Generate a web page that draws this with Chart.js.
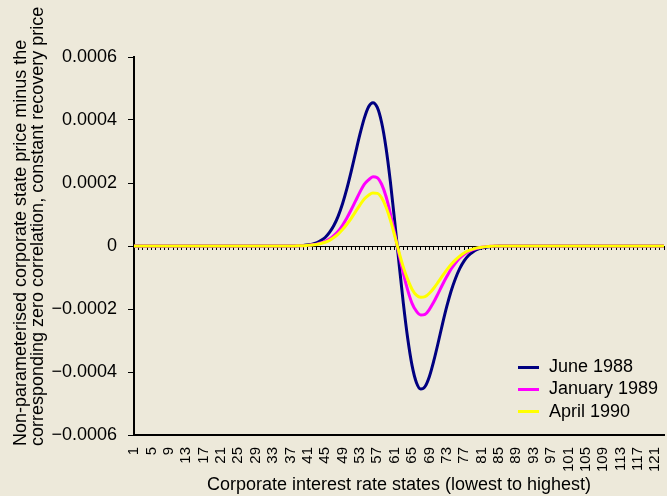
<!DOCTYPE html>
<html>
<head>
<meta charset="utf-8">
<script src="https://cdn.jsdelivr.net/npm/chart.js@4.4.1/dist/chart.umd.min.js"></script>
<style>
  body { margin: 0; background: #ede9da; }
  #wrap { position: relative; width: 667px; height: 496px; }
  #legend { position: absolute; left: 518px; top: 355px; font: 18px 'Liberation Sans', Arial, sans-serif; color: #000; }
  #legend div { height: 22.3px; line-height: 22.3px; white-space: nowrap; }
  #legend span.swatch { display: inline-block; width: 21px; height: 3px; vertical-align: middle; margin-right: 10px; }
</style>
</head>
<body>
<div id="wrap">
  <canvas id="chart" width="667" height="496"></canvas>
  <div id="legend"></div>
</div>
<script>
const categories = [
  1, 2, 3, 4, 5, 6, 7, 8, 9, 10,
  11, 12, 13, 14, 15, 16, 17, 18, 19, 20,
  21, 22, 23, 24, 25, 26, 27, 28, 29, 30,
  31, 32, 33, 34, 35, 36, 37, 38, 39, 40,
  41, 42, 43, 44, 45, 46, 47, 48, 49, 50,
  51, 52, 53, 54, 55, 56, 57, 58, 59, 60,
  61, 62, 63, 64, 65, 66, 67, 68, 69, 70,
  71, 72, 73, 74, 75, 76, 77, 78, 79, 80,
  81, 82, 83, 84, 85, 86, 87, 88, 89, 90,
  91, 92, 93, 94, 95, 96, 97, 98, 99, 100,
  101, 102, 103, 104, 105, 106, 107, 108, 109, 110,
  111, 112, 113, 114, 115, 116, 117, 118, 119, 120,
  121, 122, 123
]

const xTickLabels = ['1', '5', '9', '13', '17', '21', '25', '29', '33', '37', '41', '45', '49', '53', '57', '61',
  '65', '69', '73', '77', '81', '85', '89', '93', '97', '101', '105', '109', '113', '117', '121']

const yTicks = [-0.0006, -0.0004, -0.0002, 0, 0.0002, 0.0004, 0.0006]

const june1988 = [
  0, 0, 0, 0, 0, 0, 0, 0, 0, 0,
  0, 0, 0, 0, 0, 0, 0, 0, 0, 0,
  0, 0, 0, 0, 0, 0, 0, 0, 0, 0,
  0, 0, 0, 0, 0, 0, 0, 0, 0.000001, 0.000002,
  0.000004, 0.000006, 0.00001, 0.000017, 0.000027, 0.000043, 0.000065, 0.000095, 0.000134, 0.000182,
  0.000237, 0.000296, 0.000354, 0.000405, 0.000442, 0.000455, 0.00044, 0.000392, 0.000313, 0.000206,
  0.00008, -0.000054, -0.000182, -0.000293, -0.000379, -0.000433, -0.000454, -0.000446, -0.000414, -0.000365,
  -0.000308, -0.000248, -0.000192, -0.000143, -0.000103, -0.000071, -0.000047, -0.00003, -0.000019, -0.000011,
  -0.000006, -0.000004, -0.000002, -0.000001, 0, 0, 0, 0, 0, 0,
  0, 0, 0, 0, 0, 0, 0, 0, 0, 0,
  0, 0, 0, 0, 0, 0, 0, 0, 0, 0,
  0, 0, 0, 0, 0, 0, 0, 0, 0, 0,
  0, 0, 0
]

const january1989 = [
  0, 0, 0, 0, 0, 0, 0, 0, 0, 0,
  0, 0, 0, 0, 0, 0, 0, 0, 0, 0,
  0, 0, 0, 0, 0, 0, 0, 0, 0, 0,
  0, 0, 0, 0, 0, 0, 0, 0, 0.000001, 0.000001,
  0.000002, 0.000004, 0.000006, 0.00001, 0.000015, 0.000022, 0.000033, 0.000047, 0.000066, 0.000089,
  0.000115, 0.000143, 0.000171, 0.000196, 0.00021, 0.00022, 0.000217, 0.000196, 0.000158, 0.000104,
  0.00004, -0.000025, -0.000087, -0.00014, -0.000182, -0.000207, -0.000219, -0.000217, -0.000201, -0.000178,
  -0.000151, -0.000123, -0.000097, -0.000073, -0.000054, -0.000038, -0.000026, -0.000017, -0.000011, -0.000007,
  -0.000004, -0.000002, -0.000001, 0, 0, 0, 0, 0, 0, 0,
  0, 0, 0, 0, 0, 0, 0, 0, 0, 0,
  0, 0, 0, 0, 0, 0, 0, 0, 0, 0,
  0, 0, 0, 0, 0, 0, 0, 0, 0, 0,
  0, 0, 0
]

const april1990 = [
  0, 0, 0, 0, 0, 0, 0, 0, 0, 0,
  0, 0, 0, 0, 0, 0, 0, 0, 0, 0,
  0, 0, 0, 0, 0, 0, 0, 0, 0, 0,
  0, 0, 0, 0, 0, 0, 0, 0, 0.000001, 0.000001,
  0.000002, 0.000003, 0.000005, 0.000008, 0.000012, 0.000018, 0.000027, 0.000038, 0.000052, 0.000069,
  0.000088, 0.000109, 0.00013, 0.000149, 0.000161, 0.000168, 0.000167, 0.000153, 0.000124, 0.000083,
  0.000033, -0.000019, -0.000067, -0.000106, -0.000137, -0.000156, -0.000163, -0.000161, -0.00015, -0.000134,
  -0.000115, -0.000095, -0.000076, -0.000059, -0.000044, -0.000032, -0.000022, -0.000015, -0.00001, -0.000006,
  -0.000004, -0.000002, -0.000001, 0, 0, 0, 0, 0, 0, 0,
  0, 0, 0, 0, 0, 0, 0, 0, 0, 0,
  0, 0, 0, 0, 0, 0, 0, 0, 0, 0,
  0, 0, 0, 0, 0, 0, 0, 0, 0, 0,
  0, 0, 0
]

const seriesNames = ['June 1988', 'January 1989', 'April 1990']
const seriesColors = ['#000080', '#ff00ff', '#ffff00']

const FONT = "'Liberation Sans', Arial, sans-serif"
const yTitleLines = ['Non-parameterised corporate state price minus the',
  'corresponding zero correlation, constant recovery price']

// y title drawn by hand, the scale title would squeeze it to the axis height
const yTitlePlugin = {
  id: 'yTitle',
  afterDraw(chart) {
    const ctx = chart.ctx
    ctx.save()
    ctx.translate(26, 446)
    ctx.rotate(-Math.PI / 2)
    ctx.font = '18px ' + FONT
    ctx.fillStyle = '#000'
    ctx.textAlign = 'left'
    ctx.textBaseline = 'alphabetic'
    yTitleLines.forEach((line, i) => ctx.fillText(line, 0, i * 17))
    ctx.restore()
  }
}

const fmtY = v => {
  if (Math.abs(v) < 1e-12) return '0'
  return (v < 0 ? '\u2212' : '') + Math.abs(v).toFixed(4)
}

const seriesData = [june1988, january1989, april1990]

new Chart(document.getElementById('chart'), {
  type: 'line',
  data: {
    labels: categories,
    datasets: seriesData.map((d, i) => ({
      label: seriesNames[i],
      data: d,
      borderColor: seriesColors[i],
      backgroundColor: seriesColors[i],
      borderWidth: 3,
      pointRadius: 0,
      cubicInterpolationMode: 'monotone',
      fill: false,
      order: 3 - i,
      xAxisID: 'x',
      yAxisID: 'y'
    }))
  },
  options: {
    responsive: false,
    animation: false,
    devicePixelRatio: 1,
    layout: { padding: { top: 57, right: 3, bottom: 0, left: 0 } },
    plugins: {
      legend: { display: false },
      tooltip: { enabled: false }
    },
    scales: {
      x: {
        type: 'category',
        position: 'bottom',
        offset: false,
        grid: { display: false, drawTicks: false },
        border: { display: true, color: '#000', width: 2 },
        ticks: {
          autoSkip: false,
          minRotation: 90,
          maxRotation: 90,
          padding: 12,
          color: '#000',
          font: { family: FONT, size: 15 },
          callback: function (value, index) {
            const lab = String(categories[index])
            return xTickLabels.includes(lab) ? lab : null
          }
        },
        title: {
          display: true,
          text: 'Corporate interest rate states (lowest to highest)',
          color: '#000',
          font: { family: FONT, size: 18, lineHeight: 1.2 },
          padding: { top: 0, bottom: 0 }
        },
        afterFit: s => {
          s.height = 61
          s.paddingLeft = 0
          s.paddingRight = 0
        }
      },
      x2: {
        type: 'category',
        axis: 'x',
        position: { y: 0 },
        offset: false,
        grid: { display: true, drawOnChartArea: false, drawTicks: true, tickLength: 3, color: '#000', lineWidth: 1 },
        border: { display: true, color: '#000', width: 1 },
        ticks: { display: false },
        afterFit: s => {
          s.paddingLeft = 0
          s.paddingRight = 0
        }
      },
      y: {
        position: 'left',
        min: -0.0006,
        max: 0.0006,
        afterBuildTicks: s => { s.ticks = yTicks.map(v => ({ value: v })) },
        grid: { display: true, drawOnChartArea: false, drawTicks: true, tickLength: 6, color: '#000', lineWidth: 1 },
        border: { display: true, color: '#000', width: 2 },
        ticks: {
          padding: 11,
          color: '#000',
          font: { family: FONT, size: 18 },
          callback: v => fmtY(v)
        },
        title: { display: false },
        afterFit: s => { s.width = 134 }
      }
    }
  },
  plugins: [yTitlePlugin]
})

// legend inside the plot, lower right
const legend = document.getElementById('legend')
seriesNames.forEach((name, i) => {
  const row = document.createElement('div')
  const sw = document.createElement('span')
  sw.className = 'swatch'
  sw.style.background = seriesColors[i]
  row.appendChild(sw)
  row.appendChild(document.createTextNode(name))
  legend.appendChild(row)
})
</script>
</body>
</html>
